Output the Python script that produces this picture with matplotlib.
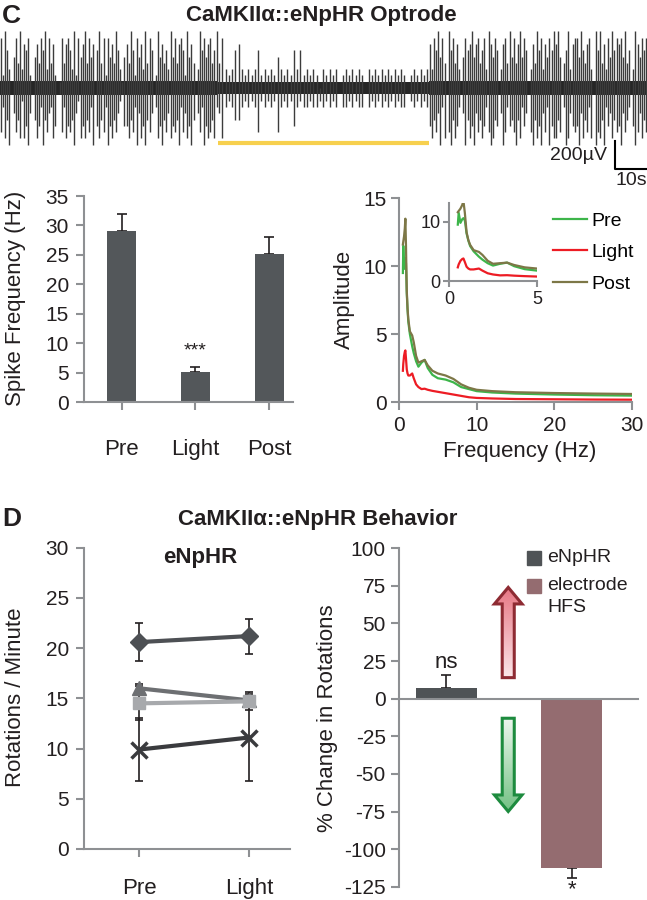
import numpy as np
import matplotlib
matplotlib.use('Agg')
import matplotlib.pyplot as plt
from matplotlib.patches import Polygon, Rectangle
from matplotlib.colors import LinearSegmentedColormap

plt.rcParams['font.family'] = ['Liberation Sans', 'DejaVu Sans']
plt.rcParams['axes.unicode_minus'] = False

W, H = 647, 900
INK = '#231F20'
GRAY = '#8E9093'

# ---------------- data ----------------
# optrode trace, spike heights read per slot (1 digit = 45 uV)
seg_edges = [0, 68, 134, 202.2]          # s : pre | light | post
light_on, light_off = 68, 134
spike_unit = 45
band_uv = [52, 40, 52]
pre_up = ("8296305849" "3768205748" "6938472018" "4786392857" "9485706948"
          "2857496315" "7496285739" "4860295746" "3958478629" "5740396857" "8469")
pre_dn = ("7385904758" "2869405863" "9574386017" "3867594286" "8573906857"
          "3968574216" "6857394869" "5740386957" "4867593748" "6950473968" "7583")
light_up = ("4832367323" "2362323253" "2326362323" "2032323023"
            "2323203232" "3232323202" "32323")
light_dn = ("4832355323" "2372323273" "2326323323" "3232323033"
            "2323303232" "3232323302" "32323")
post_up = ("7386958409" "6847305867" "9578468397" "5860378495" "8479586037"
           "4968375869" "7950469378" "8596478309" "6947385968" "7859460397" "5868")
post_dn = ("6857493807" "9586304958" "6947586379" "8560497365" "7958364079"
           "5869473968" "8570398467" "6948573809" "7859364857" "6947530697" "4857")

# spike frequency
phases = ['Pre', 'Light', 'Post']
spike_hz = [29.0, 5.15, 25.1]
spike_err = [3.0, 0.75, 3.0]

# amplitude spectrum
freq = [0.5, 0.55, 0.65, 0.75, 0.82, 0.9, 1.0, 1.1, 1.2, 1.4, 1.7, 1.9, 2.2, 2.5, 2.9,
        3.3, 3.7, 4.3, 5.0, 6.0, 7.0, 8.0, 9.0, 10, 12, 15, 20, 25, 30]
amp_pre = [9.5, 11.5, 9.8, 10.4, 10.6, 10.2, 8.0, 6.8, 5.9, 5.0, 4.1, 3.6, 3.0, 2.6, 2.9,
           3.1, 2.5, 2.0, 1.75, 1.65, 1.45, 1.1, 0.95, 0.8, 0.7, 0.62, 0.55, 0.5, 0.47]
amp_light = [2.3, 2.8, 3.4, 3.7, 3.8, 3.2, 2.4, 2.1, 1.95, 1.95, 2.1, 1.75, 1.3, 1.1, 0.95,
             0.98, 0.9, 0.82, 0.75, 0.65, 0.55, 0.45, 0.35, 0.3, 0.26, 0.22, 0.2, 0.18, 0.17]
amp_post = [11.6, 11.8, 12.2, 12.8, 13.5, 11.5, 8.2, 6.9, 6.1, 5.2, 4.9, 4.4, 3.4, 2.9, 3.0,
            3.1, 2.7, 2.3, 2.1, 1.95, 1.7, 1.3, 1.05, 0.9, 0.8, 0.72, 0.66, 0.62, 0.59]

# rotations / minute (one line per group)
rot_phases = ['Pre', 'Light']
rot_diamond = [20.6, 21.2]
rot_diamond_err = [1.9, 1.75]
rot_triangle = [16.0, 14.8]
rot_triangle_err = [0.4, 0.4]
rot_square = [14.5, 14.7]
rot_square_err = [1.7, 0.9]
rot_cross = [9.9, 11.1]
rot_cross_err = [3.1, 4.3]

# % change in rotations
groups = ['eNpHR', 'electrode\nHFS']
pct_change = [7.3, -112.3]
pct_err = [8.7, 7.0]


# ---------------- helpers ----------------
fig = plt.figure(figsize=(W / 100, H / 100), dpi=100)


def px_axes(l, t, r, b):
    return fig.add_axes([l / W, 1 - b / H, (r - l) / W, (b - t) / H])


def px_text(x, y, s, **kw):
    kw.setdefault('color', INK)
    fig.text(x / W, 1 - y / H, s, **kw)


def style(ax, tick_len=5.8, size=15):
    for s in ['top', 'right']:
        ax.spines[s].set_visible(False)
    for s in ['left', 'bottom']:
        ax.spines[s].set_color(GRAY)
        ax.spines[s].set_linewidth(1.5)
    ax.tick_params(colors=GRAY, labelcolor=INK, width=1.5, length=tick_len, labelsize=size)


def grad_arrow(ax, xc, y0, y_base, y_tip, shaft_hw, head_hw, c_top, c_bot, edge):
    verts = [(xc - shaft_hw, y0), (xc - shaft_hw, y_base), (xc - head_hw, y_base), (xc, y_tip),
             (xc + head_hw, y_base), (xc + shaft_hw, y_base), (xc + shaft_hw, y0)]
    poly = Polygon(verts, closed=True, facecolor='none', edgecolor=edge, lw=2.2,
                   joinstyle='miter', zorder=4)
    ax.add_patch(poly)
    cmap = LinearSegmentedColormap.from_list('g', [c_top, c_bot])
    im = ax.imshow(np.linspace(0, 1, 64).reshape(-1, 1), cmap=cmap, aspect='auto',
                   extent=[xc - head_hw, xc + head_hw, min(y0, y_tip), max(y0, y_tip)],
                   origin='upper', zorder=3)
    im.set_clip_path(poly)


# ---------------- C: trace ----------------
ax_tr = px_axes(0, 25, 647, 190)
ax_tr.axis('off')
segs = [(pre_up, pre_dn), (light_up, light_dn), (post_up, post_dn)]
for i, (up, dn) in enumerate(segs):
    t0, t1 = seg_edges[i], seg_edges[i + 1]
    n = min(len(up), len(dn))
    t = t0 + (np.arange(n) + 0.5) * (t1 - t0) / n
    u = np.array([int(c) for c in up[:n]]) * spike_unit
    d = np.array([int(c) for c in dn[:n]]) * spike_unit
    ax_tr.vlines(t, -d, u, color='#3c3c3c', lw=1.0)
    ax_tr.fill_between([t0, t1], -band_uv[i], band_uv[i], color='#262626', lw=0)
ax_tr.plot([light_on, light_off], [-393, -393], color='#F7D04E', lw=3, solid_capstyle='butt')
ax_tr.plot([192.2, 192.2, 202.2], [-378, -578, -578], color='k', lw=1.5, clip_on=False)
ax_tr.text(189.7, -485, '200µV', ha='right', va='center', fontsize=14, color=INK)
ax_tr.text(197.2, -657, '10s', ha='center', va='center', fontsize=14, color=INK)
ax_tr.set_xlim(0, 202.2)
ax_tr.set_ylim(-728, 450)

px_text(2, 16, 'C', fontsize=19, fontweight='bold', ha='left', va='center')
px_text(321, 16, 'CaMKIIα::eNpHR Optrode', fontsize=16, fontweight='bold',
        ha='center', va='center')

# ---------------- C: spike frequency bars ----------------
ax_b = px_axes(84, 196, 293, 402)
style(ax_b)
xb = np.arange(len(phases))
ax_b.bar(xb, spike_hz, width=0.39, color='#53575A', zorder=2)
ax_b.errorbar(xb, spike_hz, yerr=[np.zeros(len(xb)), spike_err], fmt='none',
              ecolor=INK, elinewidth=1.2, capsize=3.5, capthick=1.2, zorder=1)
ax_b.text(1, 8.6, '***', ha='center', va='center', fontsize=14, color=INK)
ax_b.set_xlim(-0.507, 2.318)
ax_b.set_ylim(0, 35)
ax_b.set_yticks(range(0, 36, 5))
ax_b.set_xticks(xb)
ax_b.set_xticklabels(phases, fontsize=16)
ax_b.tick_params(axis='x', pad=21)
ax_b.tick_params(axis='y', pad=5)
px_text(16, 298, 'Spike Frequency (Hz)', fontsize=16, rotation=90, ha='center', va='center')

# ---------------- C: spectrum ----------------
ax_s = px_axes(399, 198.3, 632, 402)
style(ax_s)
ax_s.plot(freq, amp_pre, color='#3DB54A', lw=1.6, label='Pre')
ax_s.plot(freq, amp_light, color='#ED1C24', lw=1.6, label='Light')
ax_s.plot(freq, amp_post, color='#7D7747', lw=1.6, label='Post')
ax_s.set_xlim(0, 30)
ax_s.set_ylim(0, 15)
ax_s.set_xticks([0, 10, 20, 30])
ax_s.set_yticks([0, 5, 10, 15])
ax_s.tick_params(axis='x', pad=4)
ax_s.tick_params(axis='y', pad=3)
ax_s.legend(loc='upper left', bbox_to_anchor=(553 / W, 1 - 212 / H),
            bbox_transform=fig.transFigure, frameon=False, fontsize=14,
            handlelength=1.75, handletextpad=0.2, labelspacing=0.72,
            borderpad=0, borderaxespad=0)
px_text(344, 299, 'Amplitude', fontsize=16, rotation=90, ha='center', va='center')
px_text(520, 452, 'Frequency (Hz)', fontsize=16, ha='center', va='center')

ax_i = px_axes(449, 202.7, 537, 281)
style(ax_i, tick_len=4.3, size=13)
ax_i.plot(freq, amp_pre, color='#3DB54A', lw=1.6)
ax_i.plot(freq, amp_light, color='#ED1C24', lw=1.6)
ax_i.plot(freq, amp_post, color='#7D7747', lw=1.6)
ax_i.set_xlim(0, 5)
ax_i.set_ylim(0, 13.2)
ax_i.set_xticks([0, 5])
ax_i.set_yticks([0, 10])
ax_i.tick_params(axis='x', pad=3)
ax_i.tick_params(axis='y', pad=2)

# ---------------- D titles ----------------
px_text(2, 519, 'D', fontsize=19, fontweight='bold', ha='left', va='center')
px_text(318, 519, 'CaMKIIα::eNpHR Behavior', fontsize=16, fontweight='bold',
        ha='center', va='center')

# ---------------- D: rotations ----------------
ax_r = px_axes(84, 547.7, 290, 849)
style(ax_r)
xr = np.arange(len(rot_phases))
eb = dict(ecolor=INK, elinewidth=1.2, capsize=3, capthick=1.2, zorder=1)
ax_r.errorbar(xr, rot_diamond, yerr=rot_diamond_err, fmt='none', **eb)
ax_r.errorbar(xr, rot_triangle, yerr=rot_triangle_err, fmt='none', **eb)
ax_r.errorbar(xr, rot_square, yerr=rot_square_err, fmt='none', **eb)
ax_r.errorbar(xr, rot_cross, yerr=rot_cross_err, fmt='none', **eb)
ax_r.plot(xr, rot_diamond, color='#4D5054', lw=3, marker='D', ms=9.5, zorder=3)
ax_r.plot(xr, rot_triangle, color='#6D6F72', lw=3, marker='^', ms=10.5, zorder=3)
ax_r.plot(xr, rot_square, color='#A7A9AC', lw=3, marker='s', ms=9, zorder=3)
ax_r.plot(xr, rot_cross, color='#3A3B3E', lw=3, marker='x', ms=11, mew=2.5, zorder=3)
ax_r.set_xlim(-0.5, 1.373)
ax_r.set_ylim(0, 30)
ax_r.set_yticks(range(0, 31, 5))
ax_r.set_xticks(xr)
ax_r.set_xticklabels(rot_phases, fontsize=16)
ax_r.tick_params(axis='x', pad=15)
ax_r.tick_params(axis='y', pad=5)
px_text(200, 558, 'eNpHR', fontsize=16, fontweight='bold', ha='center', va='center')
px_text(16, 697, 'Rotations / Minute', fontsize=16, rotation=90, ha='center', va='center')

# ---------------- D: % change ----------------
ax_p = px_axes(399.3, 548.3, 638, 886.7)
style(ax_p)
xp = np.arange(len(groups))
bar_cols = ['#4F5356', '#946C70']
ax_p.bar(xp, pct_change, width=0.486, color=bar_cols, zorder=2)
ax_p.errorbar(xp[:1], pct_change[:1], yerr=[[0], pct_err[:1]], fmt='none',
              ecolor=INK, elinewidth=1.2, capsize=3.5, capthick=1.2, zorder=1)
ax_p.errorbar(xp[1:], pct_change[1:], yerr=[pct_err[1:], [0]], fmt='none',
              ecolor=INK, elinewidth=1.2, capsize=3.5, capthick=1.2, zorder=1)
ax_p.text(0, 24, 'ns', ha='center', va='center', fontsize=16, color=INK)
ax_p.text(1, -130.5, '*', ha='center', va='baseline', fontsize=16, color=INK, clip_on=False)
grad_arrow(ax_p, 0.492, 14, 63, 74, 0.048, 0.11, '#E77784', '#FBE6E9', '#8E2B33')
grad_arrow(ax_p, 0.492, -13, -64, -75, 0.048, 0.11, '#EEF7EF', '#74C284', '#1D8B3E')
ax_p.spines['bottom'].set_position(('data', 0))
ax_p.set_xticks([])
ax_p.set_xlim(-0.376, 1.526)
ax_p.set_ylim(-125, 100)
ax_p.set_yticks(range(-125, 101, 25))
ax_p.tick_params(axis='y', pad=4)
px_text(327, 718, '% Change in Rotations', fontsize=16, rotation=90, ha='center', va='center')

# legend of the % change panel
for (yc, col) in [(558, bar_cols[0]), (586, bar_cols[1])]:
    fig.add_artist(Rectangle((527 / W, 1 - (yc + 7) / H), 14 / W, 14 / H,
                             transform=fig.transFigure, color=col))
px_text(547, 558, 'eNpHR', fontsize=14, ha='left', va='center')
lab = groups[1].split('\n')
px_text(547, 586, lab[0], fontsize=14, ha='left', va='center')
px_text(547, 608, lab[1], fontsize=14, ha='left', va='center')

fig.savefig('out.png', dpi=100)
